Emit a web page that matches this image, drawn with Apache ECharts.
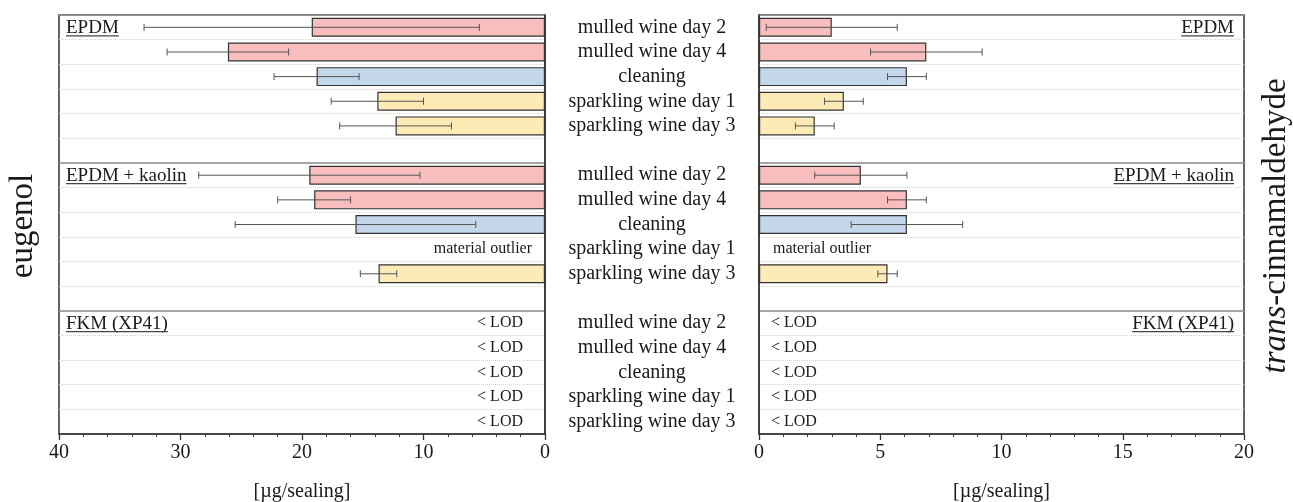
<!DOCTYPE html>
<html>
<head>
<meta charset="utf-8">
<script src="https://cdn.jsdelivr.net/npm/echarts@6/dist/echarts.min.js"></script>
<style>
  html, body { margin: 0; padding: 0; background: #fff; }
  #chart { width: 1293px; height: 502px; }
</style>
</head>
<body>
<div id="chart"></div>
<script>
// rows top to bottom: EPDM, (gap), EPDM + kaolin, (gap), FKM (XP41)
const categories = [
  'mulled wine day 2', 'mulled wine day 4', 'cleaning', 'sparkling wine day 1', 'sparkling wine day 3', '',
  'mulled wine day 2', 'mulled wine day 4', 'cleaning', 'sparkling wine day 1', 'sparkling wine day 3', '',
  'mulled wine day 2', 'mulled wine day 4', 'cleaning', 'sparkling wine day 1', 'sparkling wine day 3'
];
const treatments = [
  'mulled', 'mulled', 'cleaning', 'sparkling', 'sparkling', null,
  'mulled', 'mulled', 'cleaning', 'sparkling', 'sparkling', null,
  'mulled', 'mulled', 'cleaning', 'sparkling', 'sparkling'
];
const eugenolMean = [19.2, 26.1, 18.8, 13.8, 12.3, null, 19.4, 19.0, 15.6, null, 13.7, null, null, null, null, null, null];
const eugenolErr  = [13.8, 5.0, 3.5, 3.8, 4.6, null, 9.1, 3.0, 9.9, null, 1.5, null, null, null, null, null, null];
const cinnMean = [3.0, 6.9, 6.1, 3.5, 2.3, null, 4.2, 6.1, 6.1, null, 5.3, null, null, null, null, null, null];
const cinnErr  = [2.7, 2.3, 0.8, 0.8, 0.8, null, 1.9, 0.8, 2.3, null, 0.4, null, null, null, null, null, null];
const notes = ['', '', '', '', '', '', '', '', '', 'material outlier', '', '',
  '< LOD', '< LOD', '< LOD', '< LOD', '< LOD'];
const groupNames = ['EPDM', 'EPDM + kaolin', 'FKM (XP41)'];
const groupRows = [0, 6, 12];
const eugenolTicks = { min: 0, max: 40, interval: 10 };
const cinnTicks = { min: 0, max: 20, interval: 5 };

const FONT = '"Liberation Serif", "Times New Roman", serif';
const TXT = '#1a1a1a';
const colors = { mulled: '#f8bdbd', cleaning: '#c3d6ea', sparkling: '#fdebb7' };

const measure = document.createElement('canvas').getContext('2d');
function textWidth(str, size) {
  measure.font = size + 'px "Liberation Serif"';
  return measure.measureText(str).width;
}

const chart = echarts.init(document.getElementById('chart'));

function xAxisFor(grid, ticks, inverse) {
  return {
    type: 'value', gridIndex: grid, min: ticks.min, max: ticks.max, interval: ticks.interval,
    inverse: inverse, position: 'bottom',
    axisLine: { show: true, onZero: false, lineStyle: { color: '#333', width: 1.5 } },
    axisTick: { show: true, inside: false, length: 6, lineStyle: { color: '#333', width: 1.3 } },
    minorTick: { show: true, splitNumber: 5, length: 3, lineStyle: { color: '#333', width: 1 } },
    axisLabel: { fontFamily: FONT, fontSize: 20, color: TXT, margin: 9 },
    splitLine: { show: false },
    name: '[µg/sealing]', nameLocation: 'middle', nameGap: 48,
    nameTextStyle: { fontFamily: FONT, fontSize: 20, color: TXT }
  };
}

function catAxisFor(grid, position, showLabels) {
  return {
    type: 'category', gridIndex: grid, data: categories, inverse: true, position: position,
    axisLine: { show: true, onZero: false, lineStyle: { color: '#333', width: 1.5 } },
    axisTick: { show: false },
    axisLabel: {
      show: showLabels, interval: 0, align: 'center', margin: 107,
      fontFamily: FONT, fontSize: 20, color: TXT
    },
    splitLine: { show: true, interval: 0, lineStyle: { color: '#d4d4d4', type: 'dotted', width: 1 } }
  };
}

// hidden value axis whose split lines give the solid group separators
function sepAxisFor(grid) {
  return {
    type: 'value', gridIndex: grid, min: 0, max: categories.length, interval: 6, inverse: true,
    axisLine: { show: false, onZero: false }, axisTick: { show: false }, axisLabel: { show: false },
    splitLine: { show: true, lineStyle: { color: '#8c8c8c', width: 1.5 } }
  };
}

function barSeries(axis, means) {
  return {
    type: 'bar', xAxisIndex: axis, yAxisIndex: axis * 2, barWidth: '77%', z: 2,
    itemStyle: { borderColor: '#333', borderWidth: 1.2 },
    data: means.map((v, i) => v == null ? '-' : { value: v, itemStyle: { color: colors[treatments[i]] } })
  };
}

function errorSeries(axis, means, errs) {
  const data = [];
  means.forEach((m, i) => { if (m != null) data.push([m - errs[i], m + errs[i], i]); });
  return {
    type: 'custom', xAxisIndex: axis, yAxisIndex: axis * 2, z: 4, silent: true,
    encode: { x: [0, 1], y: 2 },
    data: data,
    renderItem: (params, api) => {
      const a = api.coord([api.value(0), api.value(2)]);
      const b = api.coord([api.value(1), api.value(2)]);
      const h = 3.5;
      const st = { stroke: '#555', lineWidth: 1 };
      return {
        type: 'group', children: [
          { type: 'line', shape: { x1: a[0], y1: a[1], x2: b[0], y2: b[1] }, style: st },
          { type: 'line', shape: { x1: a[0], y1: a[1] - h, x2: a[0], y2: a[1] + h }, style: st },
          { type: 'line', shape: { x1: b[0], y1: b[1] - h, x2: b[0], y2: b[1] + h }, style: st }
        ]
      };
    }
  };
}

// "material outlier" / "< LOD" notes next to the zero line
function noteSeries(axis, side) {
  const data = [];
  notes.forEach((n, i) => { if (n) data.push([0, i]); });
  return {
    type: 'custom', xAxisIndex: axis, yAxisIndex: axis * 2, z: 5, silent: true,
    encode: { x: 0, y: 1 },
    data: data,
    renderItem: (params, api) => {
      const idx = api.value(1);
      const note = notes[idx];
      const p = api.coord([0, idx]);
      const gap = side === 'left' ? (note === '< LOD' ? 22 : 13) : (note === '< LOD' ? 12 : 14);
      return {
        type: 'text',
        x: side === 'left' ? p[0] - gap : p[0] + gap, y: p[1],
        style: {
          text: note, fill: TXT, fontFamily: FONT, fontSize: 16,
          align: side === 'left' ? 'right' : 'left', verticalAlign: 'middle'
        }
      };
    }
  };
}

// underlined material labels
function groupSeries(axis, edge, side) {
  return {
    type: 'custom', xAxisIndex: axis, yAxisIndex: axis * 2, z: 6, silent: true,
    encode: { x: 0, y: 1 },
    data: groupRows.map(r => [edge, r]),
    renderItem: (params, api) => {
      const name = groupNames[params.dataIndex];
      const p = api.coord([api.value(0), api.value(1)]);
      const w = textWidth(name, 19);
      const x0 = side === 'left' ? p[0] + 7 : p[0] - 10 - w;
      const uy = p[1] + 8.5;
      return {
        type: 'group', children: [
          { type: 'text', x: x0, y: p[1] + 1,
            style: { text: name, fill: TXT, fontFamily: FONT, fontSize: 19, align: 'left', verticalAlign: 'middle' } },
          { type: 'line', shape: { x1: x0, y1: uy, x2: x0 + w, y2: uy },
            style: { stroke: '#444', lineWidth: 1.3 } }
        ]
      };
    }
  };
}

const gridBase = {
  top: 15, height: 419, show: true, borderColor: '#333', borderWidth: 1.5,
  backgroundColor: 'transparent', containLabel: false, outerBoundsMode: 'none'
};

const option = {
  animation: false,
  backgroundColor: '#fff',
  textStyle: { fontFamily: FONT },
  grid: [
    Object.assign({ left: 59, width: 486 }, gridBase),
    Object.assign({ left: 759, width: 485 }, gridBase)
  ],
  xAxis: [
    xAxisFor(0, eugenolTicks, true),
    xAxisFor(1, cinnTicks, false)
  ],
  yAxis: [
    catAxisFor(0, 'right', true),
    sepAxisFor(0),
    catAxisFor(1, 'left', false),
    sepAxisFor(1)
  ],
  series: [
    barSeries(0, eugenolMean),
    errorSeries(0, eugenolMean, eugenolErr),
    noteSeries(0, 'left'),
    groupSeries(0, eugenolTicks.max, 'left'),
    barSeries(1, cinnMean),
    errorSeries(1, cinnMean, cinnErr),
    noteSeries(1, 'right'),
    groupSeries(1, cinnTicks.max, 'right')
  ],
  graphic: [
    {
      type: 'text', x: 23, y: 226, rotation: Math.PI / 2,
      style: { text: 'eugenol', fill: TXT, fontFamily: FONT, fontSize: 33, align: 'center', verticalAlign: 'middle' }
    },
    {
      type: 'text', x: 1276, y: 226, rotation: Math.PI / 2,
      style: {
        text: '{i|trans}-cinnamaldehyde', fill: TXT, fontFamily: FONT, fontSize: 33,
        align: 'center', verticalAlign: 'middle',
        rich: { i: { fontStyle: 'italic', fontFamily: FONT, fontSize: 33, fill: TXT } }
      }
    }
  ]
};

chart.setOption(option);
window.addEventListener('resize', () => chart.resize());
</script>
</body>
</html>
